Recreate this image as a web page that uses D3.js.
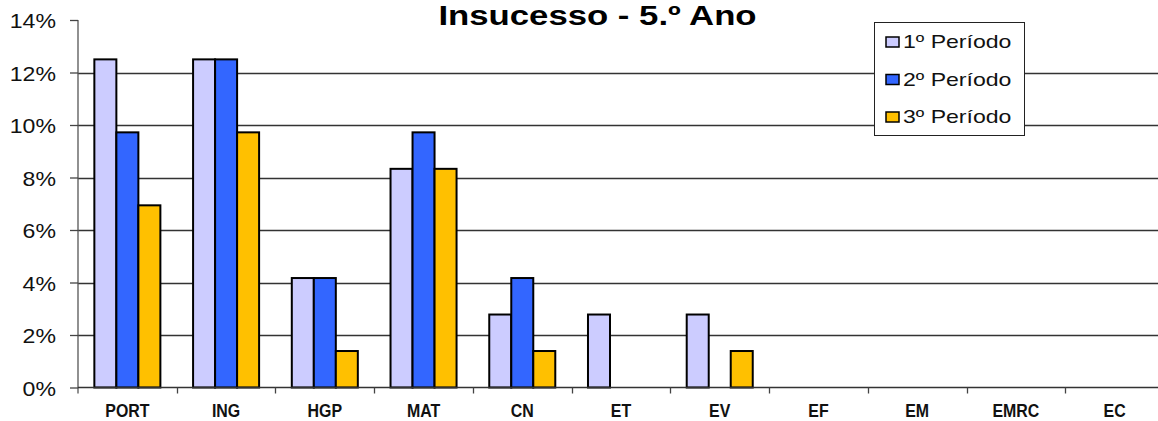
<!DOCTYPE html>
<html><head><meta charset="utf-8">
<script src="https://cdn.jsdelivr.net/npm/d3@7"></script>
<style>body{margin:0;background:#fff}svg{display:block}text{font-family:"Liberation Sans",Arial,sans-serif}</style>
</head><body><svg id="c" width="1158" height="421"></svg>
<script>
const categories = ["PORT","ING","HGP","MAT","CN","ET","EV","EF","EM","EMRC","EC"];
const seriesNames = ["1º Período","2º Período","3º Período"];
const periodo1 = [0.125,0.125,0.0417,0.0833,0.0278,0.0278,0.0278,0,0,0,0];
const periodo2 = [0.0972,0.125,0.0417,0.0972,0.0417,0,0,0,0,0,0];
const periodo3 = [0.0694,0.0972,0.0139,0.0833,0.0139,0,0.0139,0,0,0,0];
const seriesColors = ["#CCCCFF","#3366FF","#FFC000"];
const yTicks = [0,0.02,0.04,0.06,0.08,0.10,0.12,0.14];
const title = "Insucesso - 5.º Ano";

const svg = d3.select("#c");
const pL = 78, pR = 1164, pT = 20, pB = 387.5;
const x0 = d3.scaleBand().domain(categories).range([pL, pR]).padding(0);
const x1 = d3.scaleBand().domain(d3.range(3)).range([0, x0.bandwidth()]).paddingInner(0).paddingOuter(0.743);
const y = d3.scaleLinear().domain([0,0.14]).range([pB, pT]);
const series = [periodo1, periodo2, periodo3];

function stretch(sel, f){ sel.each(function(){ const n=this.getComputedTextLength(); this.setAttribute("textLength", n*f); this.setAttribute("lengthAdjust","spacingAndGlyphs"); }); }

// gridlines
svg.append("g").selectAll("line").data(yTicks.filter(d=>d>0 && d<0.14)).join("line")
  .attr("x1", pL).attr("x2", 1158).attr("y1", d=>Math.round(y(d))+0.5).attr("y2", d=>Math.round(y(d))+0.5)
  .attr("stroke", "#333").attr("stroke-width", 1.3);

// y axis
const yAxis = svg.append("g").attr("transform", `translate(${pL},0)`)
  .call(d3.axisLeft(y).tickValues(yTicks).tickFormat(d3.format(".0%")).tickSize(8).tickPadding(14));
yAxis.select(".domain").attr("stroke","#555").attr("stroke-width",1.3).attr("d", `M0,${pT}V${pB+6}`);
yAxis.selectAll(".tick line").attr("stroke","#444").attr("stroke-width",1.3);
yAxis.selectAll(".tick text").attr("font-size", 21).attr("fill","#111").attr("dy","0.36em").attr("font-family","Liberation Sans, Arial, sans-serif");
stretch(yAxis.selectAll(".tick text"), 1.1);

// bars
const groups = svg.append("g").selectAll("g").data(series).join("g").attr("fill", (d,i)=>seriesColors[i]);
groups.each(function(vals, si){
  d3.select(this).selectAll("rect").data(vals.map((v,ci)=>({v, c:categories[ci]})).filter(d=>d.v>0)).join("rect")
    .attr("x", d=>x0(d.c)+x1(si)).attr("width", x1.bandwidth())
    .attr("y", d=>y(d.v)).attr("height", d=>pB - y(d.v))
    .attr("stroke","#000").attr("stroke-width",2);
});

// x axis
const xAxis = svg.append("g").attr("transform", `translate(0,${pB})`)
  .call(d3.axisBottom(x0).tickSize(0).tickPadding(29));
xAxis.select(".domain").attr("stroke","#333").attr("stroke-width",1.5).attr("d", `M${pL},0H1158`);
xAxis.selectAll(".tick text").attr("font-size", 18.5).attr("font-weight","bold").attr("fill","#111").attr("dy","0").attr("font-family","Liberation Sans, Arial, sans-serif");
stretch(xAxis.selectAll(".tick text"), 0.86);
svg.append("g").selectAll("line").data(categories.slice(1)).join("line")
  .attr("x1", d=>Math.round(x0(d))+0.5).attr("x2", d=>Math.round(x0(d))+0.5).attr("y1", pB).attr("y2", pB+6)
  .attr("stroke","#444").attr("stroke-width",1.3);

// title
const t = svg.append("text").attr("x", 597.5).attr("y", 25).attr("text-anchor","middle")
  .attr("font-size", 28).attr("font-weight","bold").attr("fill","#000").text(title);
stretch(t, 1.24);

// legend
const lg = svg.append("g");
lg.append("rect").attr("x",874.5).attr("y",22.5).attr("width",150).attr("height",113).attr("fill","#fff").attr("stroke","#222").attr("stroke-width",1);
seriesNames.forEach((name,i)=>{
  const by = 48 + i*37.5;
  lg.append("rect").attr("x",886).attr("y",by-11).attr("width",13).attr("height",10).attr("fill",seriesColors[i]).attr("stroke","#000").attr("stroke-width",1.5);
  const tx = lg.append("text").attr("x",903).attr("y",by).attr("font-size",18.6).attr("fill","#111").text(name);
  stretch(tx, 1.24);
});
</script></body></html>
